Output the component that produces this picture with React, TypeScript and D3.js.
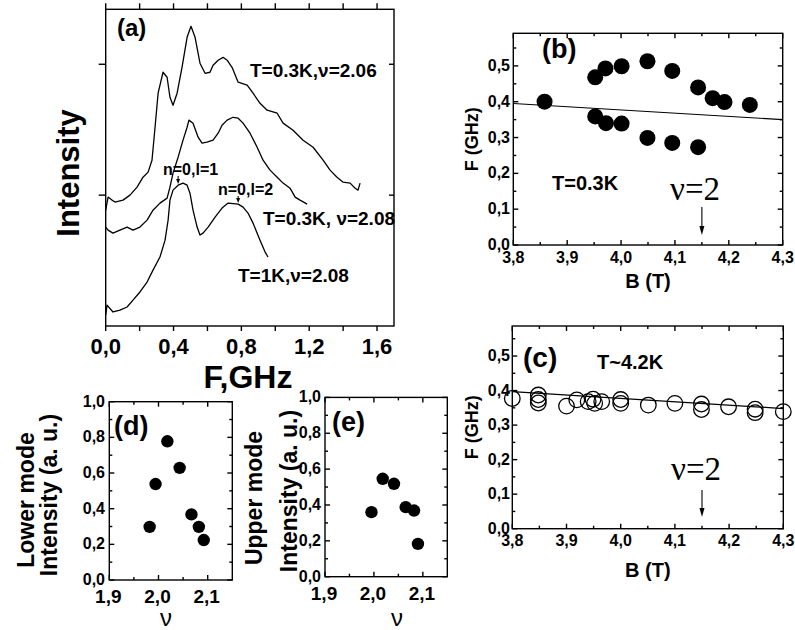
import React from 'react';
import * as d3 from 'd3';

const SANS = "'Liberation Sans', Arial, Helvetica, sans-serif";
const SERIF = "'Liberation Serif', 'Times New Roman', serif";

// ---------- panel (a): spectra  [F (GHz), intensity (offset, a.u.)]
const spectrum206: [number, number][] = [
  [0.0, 0.885], [0.014, 0.985], [0.037, 0.962], [0.055, 0.947], [0.102, 0.962], [0.143, 1.0], [0.185, 1.061],
  [0.22, 1.137], [0.25, 1.176], [0.273, 1.267], [0.291, 1.519], [0.309, 1.779], [0.338, 1.939], [0.362, 1.901],
  [0.379, 1.748], [0.397, 1.687], [0.421, 1.779], [0.45, 1.977], [0.48, 2.206], [0.503, 2.29], [0.527, 2.206],
  [0.556, 2.008], [0.586, 1.931], [0.615, 1.939], [0.633, 1.992], [0.663, 2.031], [0.692, 2.053], [0.716, 2.031],
  [0.745, 1.977], [0.781, 1.863], [0.834, 1.84], [0.869, 1.779], [0.91, 1.702], [0.952, 1.649], [1.011, 1.626],
  [1.046, 1.55], [1.105, 1.496], [1.164, 1.42], [1.223, 1.366], [1.282, 1.267], [1.323, 1.191], [1.364, 1.137],
  [1.4, 1.099], [1.441, 1.092], [1.471, 1.053], [1.488, 1.038], [1.5, 1.092],
];
const spectrum208: [number, number][] = [
  [0.0, 0.756], [0.014, 0.733], [0.043, 0.71], [0.084, 0.733], [0.126, 0.756], [0.161, 0.733], [0.202, 0.756],
  [0.244, 0.809], [0.279, 0.885], [0.32, 0.939], [0.362, 0.977], [0.379, 1.061], [0.397, 1.168], [0.427, 1.29],
  [0.456, 1.42], [0.48, 1.519], [0.491, 1.573], [0.515, 1.55], [0.545, 1.443], [0.568, 1.397], [0.597, 1.405],
  [0.633, 1.42], [0.663, 1.473], [0.686, 1.534], [0.716, 1.573], [0.751, 1.595], [0.781, 1.588], [0.81, 1.55],
  [0.851, 1.473], [0.893, 1.366], [0.928, 1.267], [0.969, 1.191], [1.011, 1.137], [1.046, 1.092], [1.087, 1.053],
  [1.117, 0.985], [1.146, 0.962], [1.188, 0.931],
];
const spectrum1K: [number, number][] = [
  [0.0, 0.084], [0.008, 0.16], [0.043, 0.107], [0.084, 0.122], [0.126, 0.145], [0.161, 0.198], [0.202, 0.26],
  [0.244, 0.336], [0.279, 0.427], [0.32, 0.527], [0.35, 0.656], [0.368, 0.809], [0.379, 0.962], [0.397, 1.038],
  [0.427, 1.076], [0.456, 1.092], [0.48, 1.076], [0.497, 1.015], [0.515, 0.885], [0.539, 0.756], [0.556, 0.695],
  [0.574, 0.71], [0.604, 0.756], [0.645, 0.832], [0.686, 0.901], [0.722, 0.939], [0.781, 0.931], [0.81, 0.908],
  [0.839, 0.863], [0.869, 0.786], [0.91, 0.656], [0.94, 0.565], [0.957, 0.527],
];
const aXTicks = [0, 0.4, 0.8, 1.2, 1.6];
const aXMinor = [0.2, 0.6, 1.0, 1.4];
const aYTicks = [1, 2];

// ---------- panel (b): T = 0.3 K   [B (T), F (GHz)]
const bUpper: [number, number][] = [
  [3.858, 0.4], [3.952, 0.468], [3.971, 0.493], [4.001, 0.499], [4.049, 0.513], [4.095, 0.486],
  [4.143, 0.44], [4.17, 0.41], [4.192, 0.399], [4.239, 0.391],
];
const bLower: [number, number][] = [
  [3.952, 0.359], [3.972, 0.34], [4.001, 0.339], [4.049, 0.299], [4.095, 0.285], [4.143, 0.273],
];
const bFit: [number, number][] = [[3.8, 0.395], [4.3, 0.35]];

// ---------- panel (c): T ~ 4.2 K
const cPoints: [number, number][] = [
  [3.8, 0.377], [3.848, 0.387], [3.848, 0.374], [3.848, 0.364], [3.9, 0.355], [3.919, 0.373], [3.94, 0.368],
  [3.949, 0.375], [3.952, 0.363], [3.965, 0.368], [4.0, 0.374], [4.0, 0.363], [4.051, 0.358], [4.1, 0.363],
  [4.149, 0.361], [4.149, 0.345], [4.199, 0.353], [4.248, 0.346], [4.248, 0.336], [4.3, 0.339],
];
const cFit: [number, number][] = [[3.8, 0.397], [4.3, 0.348]];

const bcXTicks = [3.8, 3.9, 4.0, 4.1, 4.2, 4.3];
const bcYTicks = [0, 0.1, 0.2, 0.3, 0.4, 0.5];

// ---------- panels (d), (e)   [nu, intensity]
const dPoints: [number, number][] = [
  [1.982, 0.298], [1.994, 0.538], [2.018, 0.778], [2.043, 0.629], [2.067, 0.368], [2.082, 0.298], [2.092, 0.224],
];
const ePoints: [number, number][] = [
  [1.995, 0.36], [2.018, 0.546], [2.041, 0.518], [2.065, 0.388], [2.082, 0.369], [2.09, 0.183],
];
const deXTicks = [1.9, 2.0, 2.1];
const deYTicks = [0, 0.2, 0.4, 0.6, 0.8, 1.0];

const fmt = (v: number) => d3.format('.1f')(v).replace('.', ',');

type Sc = d3.ScaleLinear<number, number>;

function ticks(
  scale: Sc, vals: number[], orient: 'h' | 'v', at: number, len: number, key: string,
) {
  return vals.map((v, i) => {
    const p = scale(v);
    return orient === 'h'
      ? <line key={key + i} x1={p} x2={p} y1={at} y2={at + len} />
      : <line key={key + i} x1={at} x2={at + len} y1={p} y2={p} />;
  });
}

function halfSteps(major: number[], step: number, dom: number[]) {
  const out: number[] = [];
  major.forEach((v) => {
    const m = +(v + step).toFixed(4);
    if (m > dom[0] && m < dom[1]) out.push(m);
  });
  if (major[0] - step > dom[0]) out.push(+(major[0] - step).toFixed(4));
  return out;
}

function BoxFrame({ x, y, xMajor, yMajor, xStep, yStep }: {
  x: Sc; y: Sc; xMajor: number[]; yMajor: number[]; xStep: number; yStep: number;
}) {
  const [x0, x1] = x.range();
  const [y0, y1] = y.range();
  const xMinor = halfSteps(xMajor, xStep, x.domain());
  const yMinor = halfSteps(yMajor, yStep, y.domain());
  const M = 5, m = 3;
  return (
    <g stroke="#000" strokeWidth={1.4} fill="none">
      <rect x={x0} y={y1} width={x1 - x0} height={y0 - y1} />
      {ticks(x, xMajor, 'h', y0, -M, 'xb')}
      {ticks(x, xMinor, 'h', y0, -m, 'xbm')}
      {ticks(x, xMajor, 'h', y1, M, 'xt')}
      {ticks(x, xMinor, 'h', y1, m, 'xtm')}
      {ticks(y, yMajor, 'v', x0, M, 'yl')}
      {ticks(y, yMinor, 'v', x0, m, 'ylm')}
      {ticks(y, yMajor, 'v', x1, -M, 'yr')}
      {ticks(y, yMinor, 'v', x1, -m, 'yrm')}
    </g>
  );
}

function Arrow({ x, y1, y2, w = 2.5, h = 9 }: { x: number; y1: number; y2: number; w?: number; h?: number }) {
  return (
    <g>
      <line x1={x} x2={x} y1={y1} y2={y2 - h + 1} stroke="#000" strokeWidth={1.1} />
      <path d={`M${x - w},${y2 - h} L${x + w},${y2 - h} L${x},${y2} Z`} fill="#000" />
    </g>
  );
}

function PanelA() {
  const x = d3.scaleLinear().domain([0, 1.7]).range([105.7, 394]);
  const y = d3.scaleLinear().domain([0, 2.42]).range([326, 9.3]);
  const line = d3.line<[number, number]>().x((d) => x(d[0])).y((d) => y(d[1]));
  return (
    <g>
      <g stroke="#000" strokeWidth={1.4} fill="none">
        <rect x={105.7} y={9.3} width={394 - 105.7} height={326 - 9.3} />
        {ticks(x, [...aXTicks, ...aXMinor], 'h', 326, 5, 'ab')}
        {ticks(x, [...aXTicks, ...aXMinor], 'h', 9.3, -6, 'at')}
        {ticks(y, aYTicks, 'v', 105.7, -7, 'al')}
        {ticks(y, aYTicks, 'v', 394, -5, 'ar')}
      </g>
      <g stroke="#000" strokeWidth={1.3} fill="none" strokeLinejoin="round">
        <path d={line(spectrum206) || ''} />
        <path d={line(spectrum208) || ''} />
        <path d={line(spectrum1K) || ''} />
      </g>
      <g fontFamily={SANS} fontWeight="bold" fontSize={22} textAnchor="middle">
        {aXTicks.map((v) => (
          <text key={v} x={x(v)} y={354}>{fmt(v)}</text>
        ))}
      </g>
      <text x={248} y={388} fontFamily={SANS} fontWeight="bold" fontSize={32} textAnchor="middle">F,GHz</text>
      <text transform="translate(79,173) rotate(-90)" fontFamily={SANS} fontWeight="bold" fontSize={31} textAnchor="middle">Intensity</text>
      <text x={117} y={36} fontFamily={SANS} fontWeight="bold" fontSize={24}>(a)</text>
      <g fontFamily={SANS} fontWeight="bold" fontSize={19}>
        <text x={250} y={77}>T=0.3K,ν=2.06</text>
        <text x={263} y={225}>T=0.3K, ν=2.08</text>
        <text x={238} y={282}>T=1K,ν=2.08</text>
      </g>
      <g fontFamily={SANS} fontWeight="bold" fontSize={16}>
        <text x={163} y={175}>n=0,l=1</text>
        <text x={218} y={195}>n=0,l=2</text>
      </g>
      <Arrow x={x(0.427)} y1={176} y2={184} w={2} h={5} />
      <Arrow x={x(0.781)} y1={196} y2={203} w={2} h={5} />
    </g>
  );
}

function PanelBC({ which }: { which: 'b' | 'c' }) {
  const isB = which === 'b';
  const x = d3.scaleLinear().domain([3.8, 4.3]).range(isB ? [513.3, 782.7] : [512.3, 783.3]);
  const y = d3.scaleLinear().domain(isB ? [0, 0.591] : [0, 0.587]).range(isB ? [245, 33.3] : [528.7, 326]);
  const line = d3.line<[number, number]>().x((d) => x(d[0])).y((d) => y(d[1]));
  const [y0] = y.range();
  const xLab = isB ? 263 : 546;
  const titleY = isB ? 288 : 577;
  const fit = isB ? bFit : cFit;
  return (
    <g>
      <BoxFrame x={x} y={y} xMajor={bcXTicks} yMajor={bcYTicks} xStep={0.05} yStep={0.05} />
      <path d={line(fit) || ''} stroke="#000" strokeWidth={1.2} fill="none" />
      {isB
        ? [...bUpper, ...bLower].map((d, i) => (
            <circle key={i} cx={x(d[0])} cy={y(d[1])} r={8} fill="#000" />
          ))
        : cPoints.map((d, i) => (
            <circle key={i} cx={x(d[0])} cy={y(d[1])} r={7.8} fill="none" stroke="#000" strokeWidth={1.3} />
          ))}
      <g fontFamily={SANS} fontWeight="bold" fontSize={16}>
        {bcXTicks.map((v) => (
          <text key={v} x={x(v)} y={xLab} textAnchor="middle">{fmt(v)}</text>
        ))}
        {bcYTicks.map((v) => (
          <text key={v} x={510} y={y(v) + 5} textAnchor="end">{fmt(v)}</text>
        ))}
      </g>
      <text x={(x.range()[0] + x.range()[1]) / 2} y={titleY} fontFamily={SANS} fontWeight="bold" fontSize={20} textAnchor="middle">B (T)</text>
      <text transform={`translate(478,${(y0 + y.range()[1]) / 2}) rotate(-90)`} fontFamily={SANS} fontWeight="bold" fontSize={18} textAnchor="middle">F (GHz)</text>
      {isB ? (
        <>
          <text x={542} y={58} fontFamily={SANS} fontWeight="bold" fontSize={27}>(b)</text>
          <text x={552} y={190} fontFamily={SANS} fontWeight="bold" fontSize={20}>T=0.3K</text>
          <text x={695} y={200} fontFamily={SERIF} fontSize={33} textAnchor="middle">ν=2</text>
        </>
      ) : (
        <>
          <text x={523} y={367} fontFamily={SANS} fontWeight="bold" fontSize={28}>(c)</text>
          <text x={597} y={369} fontFamily={SANS} fontWeight="bold" fontSize={20}>T~4.2K</text>
          <text x={696} y={480} fontFamily={SERIF} fontSize={33} textAnchor="middle">ν=2</text>
        </>
      )}
      <Arrow x={x(4.15)} y1={isB ? 207 : 490} y2={isB ? 235 : 517} />
    </g>
  );
}

function PanelDE({ which }: { which: 'd' | 'e' }) {
  const isD = which === 'd';
  const x = d3.scaleLinear().domain([1.9, 2.15]).range(isD ? [109.3, 232.3] : [325, 447.3]);
  const y = d3.scaleLinear().domain([0, 1.0]).range(isD ? [580, 401.7] : [576.7, 397.4]);
  const pts = isD ? dPoints : ePoints;
  const yLabX = isD ? 105 : 321;
  const xLabY = isD ? 603 : 600;
  return (
    <g>
      <BoxFrame x={x} y={y} xMajor={deXTicks} yMajor={deYTicks} xStep={0.05} yStep={0.1} />
      {pts.map((d, i) => (
        <circle key={i} cx={x(d[0])} cy={y(d[1])} r={6.2} fill="#000" />
      ))}
      <g fontFamily={SANS} fontWeight="bold">
        {deXTicks.map((v) => (
          <text key={v} x={x(v) - 1} y={xLabY} fontSize={19} textAnchor="middle">{fmt(v)}</text>
        ))}
        {deYTicks.map((v) => (
          <text key={v} x={yLabX} y={y(v) + 5} fontSize={16} textAnchor="end">{fmt(v)}</text>
        ))}
      </g>
      <text x={isD ? 166 : 397} y={626} fontFamily={SANS} fontSize={24} textAnchor="middle">ν</text>
      <g fontFamily={SANS} fontWeight="bold" fontSize={23} textAnchor="middle">
        <text transform={`translate(${isD ? 34 : 262},${isD ? 500 : 498}) rotate(-90)`}>{isD ? 'Lower mode' : 'Upper mode'}</text>
        <text transform={`translate(${isD ? 57 : 297},${isD ? 495 : 491}) rotate(-90)`}>Intensity (a. u.)</text>
      </g>
      <text x={isD ? 114 : 332} y={isD ? 435 : 431} fontFamily={SANS} fontWeight="bold" fontSize={27}>{isD ? '(d)' : '(e)'}</text>
    </g>
  );
}

export default function App() {
  return (
    <div style={{ position: 'absolute', left: 0, top: 0, background: '#fff' }}>
      <svg width={795} height={630} viewBox="0 0 795 630" style={{ display: 'block', background: '#fff' }}>
        <PanelA />
        <PanelBC which="b" />
        <PanelBC which="c" />
        <PanelDE which="d" />
        <PanelDE which="e" />
      </svg>
    </div>
  );
}
